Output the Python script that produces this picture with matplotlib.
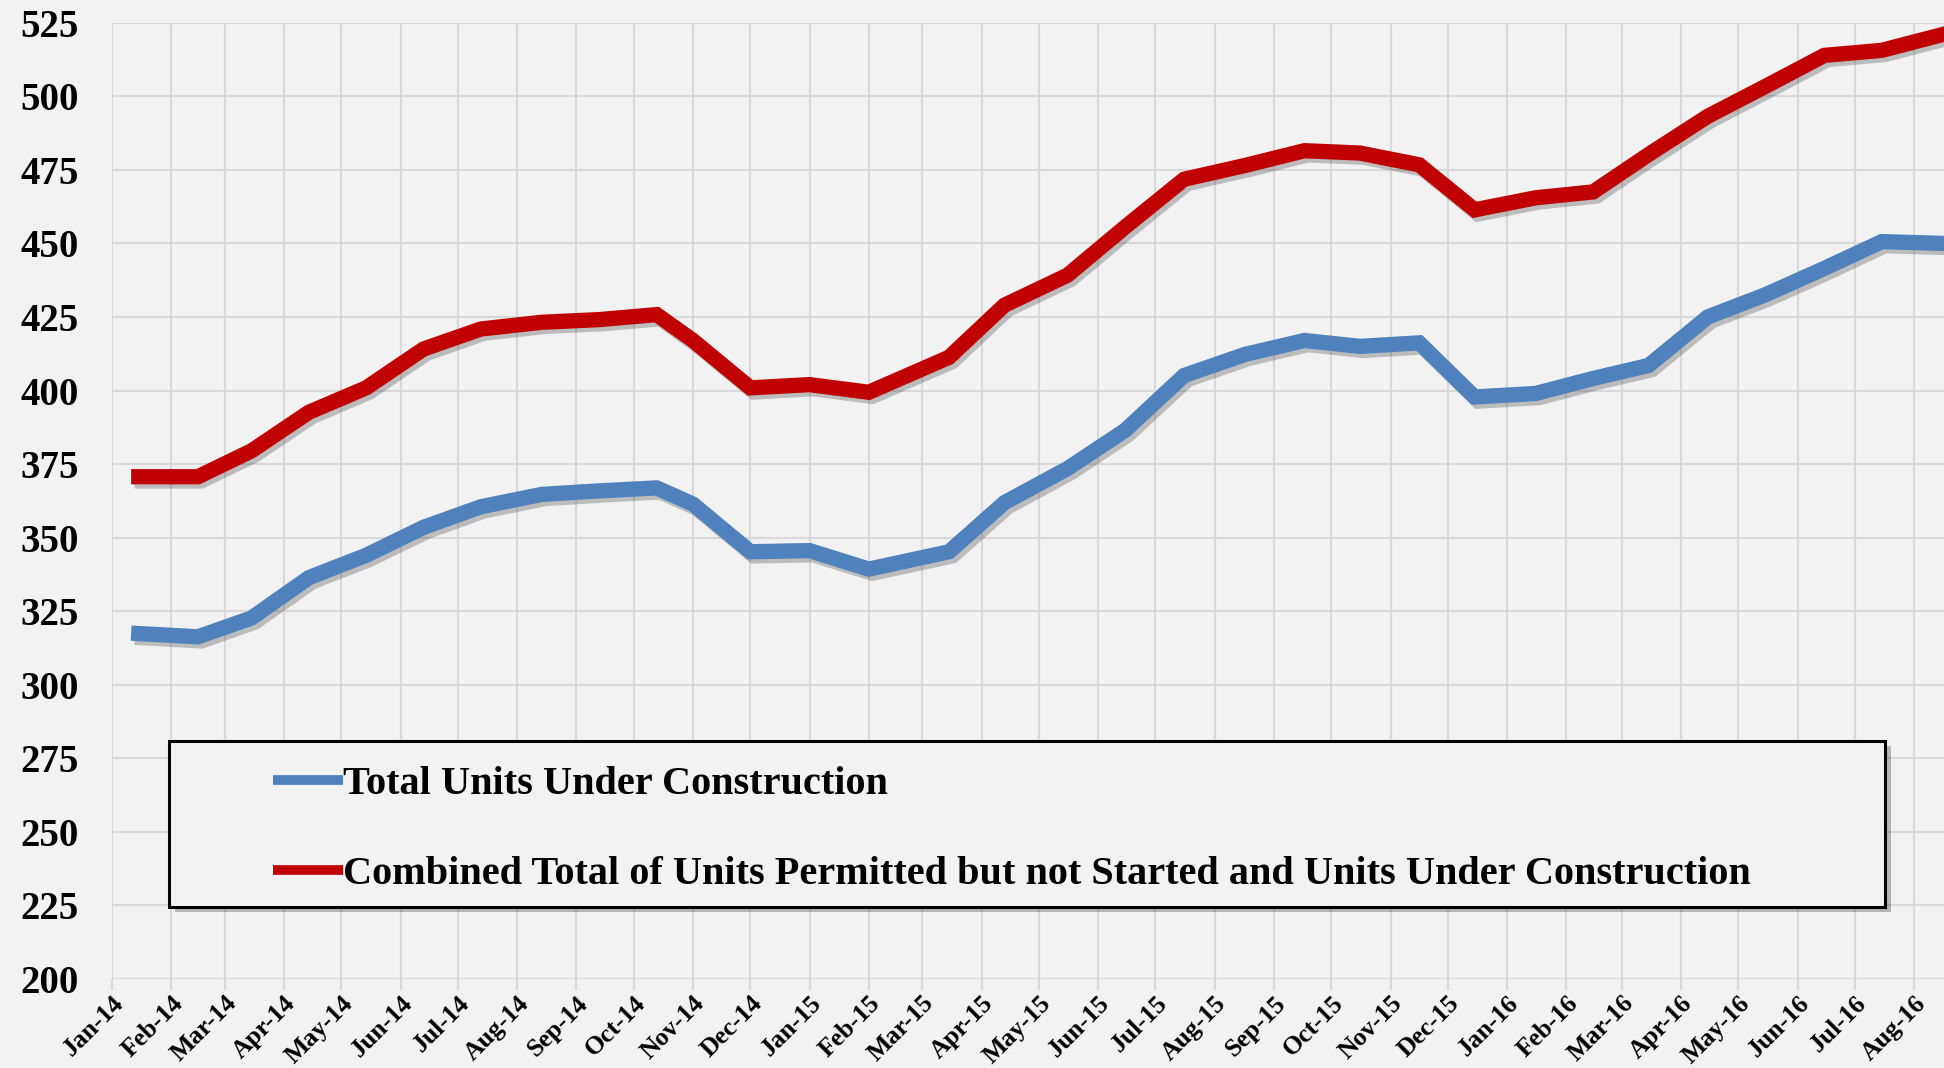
import matplotlib
matplotlib.use("Agg")
import matplotlib.pyplot as plt
import matplotlib.dates as mdates
import matplotlib.patheffects as pe
from matplotlib.patches import Rectangle
import pandas as pd

# Dates of each monthly observation (as placed on the date axis)
dates = ["2014-01-15", "2014-02-15", "2014-03-15", "2014-04-14", "2014-05-14",
         "2014-06-13", "2014-07-13", "2014-08-14", "2014-09-13", "2014-10-13",
         "2014-11-01", "2014-12-01", "2015-01-01", "2015-02-01", "2015-03-15",
         "2015-04-13", "2015-05-16", "2015-06-15", "2015-07-16", "2015-08-17",
         "2015-09-17", "2015-10-16", "2015-11-16", "2015-12-15", "2016-01-16",
         "2016-02-15", "2016-03-15", "2016-04-15", "2016-05-15", "2016-06-15",
         "2016-07-15", "2016-08-16"]

under_construction = [317.4, 316.3, 322.7, 336.4, 344.0, 353.5, 360.5, 364.7, 365.9, 366.9,
                      361.4, 345.2, 345.6, 339.3, 345.2, 361.9, 373.5, 386.4, 405.1, 412.3,
                      417.0, 415.0, 416.2, 397.8, 399.0, 404.1, 408.5, 425.0, 432.5, 441.5,
                      450.6, 450.0]

combined_total = [370.7, 370.7, 379.5, 392.6, 400.9, 414.1, 420.9, 423.2, 424.1, 425.8,
                  417.0, 400.9, 402.0, 399.4, 411.3, 429.0, 439.2, 455.5, 471.8, 476.5,
                  481.5, 480.7, 476.7, 461.4, 465.5, 467.5, 480.2, 493.2, 503.3, 513.9,
                  515.6, 521.0]

label_blue = "Total Units Under Construction"
label_red = "Combined Total of Units Permitted but not Started and Units Under Construction"

x = pd.to_datetime(dates)
bg = "#f2f2f2"
font = ["Liberation Serif", "DejaVu Serif"]

fig = plt.figure(figsize=(19.44, 10.68), dpi=100, facecolor=bg)
ax = fig.add_axes([112 / 1944, 1 - 979 / 1068, 1 - 112 / 1944, (979 - 22.7) / 1068])
ax.set_facecolor(bg)

shadow = [pe.SimpleLineShadow(offset=(2.5, -3), shadow_color="#000000", alpha=0.22),
          pe.Normal()]
ax.plot(x, under_construction, color="#4f81bd", lw=11, solid_joinstyle="miter",
        solid_capstyle="projecting", label=label_blue, path_effects=shadow, zorder=3)
ax.plot(x, combined_total, color="#c00000", lw=11, solid_joinstyle="miter",
        solid_capstyle="projecting", label=label_red, path_effects=shadow, zorder=3)

x0 = mdates.date2num(pd.Timestamp("2014-01-01"))
ax.set_xlim(x0, x0 + 958.6)
ax.set_ylim(200, 525)
ax.set_yticks(range(200, 526, 25))

ax.xaxis.set_major_locator(mdates.MonthLocator())
ax.xaxis.set_major_formatter(mdates.DateFormatter("%b-%y"))

ax.grid(True, color="#d9d9d9", lw=1.5, zorder=0)
ax.set_axisbelow(True)
for s in ax.spines.values():
    s.set_visible(False)

ax.tick_params(axis="y", length=0, pad=24)
ax.tick_params(axis="x", length=8, width=1.5, color="#d9d9d9", pad=1)
for t in ax.get_yticklabels():
    t.set_fontfamily(font)
    t.set_fontweight("bold")
    t.set_fontsize(28)
for t in ax.get_xticklabels():
    t.set_fontfamily(font)
    t.set_fontweight("bold")
    t.set_fontsize(18.5)
    t.set_rotation(45)
    t.set_ha("right")
    t.set_va("top")
    t.set_rotation_mode("anchor")

# legend box with shadow
bx, by, bw, bh = 169 / 1944, 1 - 907 / 1068, (1885 - 169) / 1944, 166 / 1068
ax.add_patch(Rectangle((bx + 0.003, by - 0.005), bw, bh, transform=fig.transFigure,
                       facecolor="#000000", alpha=0.25, edgecolor="none", zorder=4,
                       clip_on=False))
ax.add_patch(Rectangle((bx, by), bw, bh, transform=fig.transFigure,
                       facecolor=bg, edgecolor="black", lw=2.2, zorder=5, clip_on=False))

leg = ax.legend(loc="upper left", bbox_to_anchor=(273 / 1944, 1 - 766 / 1068),
                bbox_transform=fig.transFigure, frameon=False, borderpad=0,
                borderaxespad=0, handlelength=1.75, handletextpad=0.0, labelspacing=1.3,
                prop={"family": font, "weight": "bold", "size": 29})
leg.set_zorder(6)
for ln in leg.get_lines():
    ln.set_linewidth(7)
    ln.set_solid_capstyle("butt")
    ln.set_path_effects([])

fig.savefig("out.png", dpi=100, facecolor=bg)
